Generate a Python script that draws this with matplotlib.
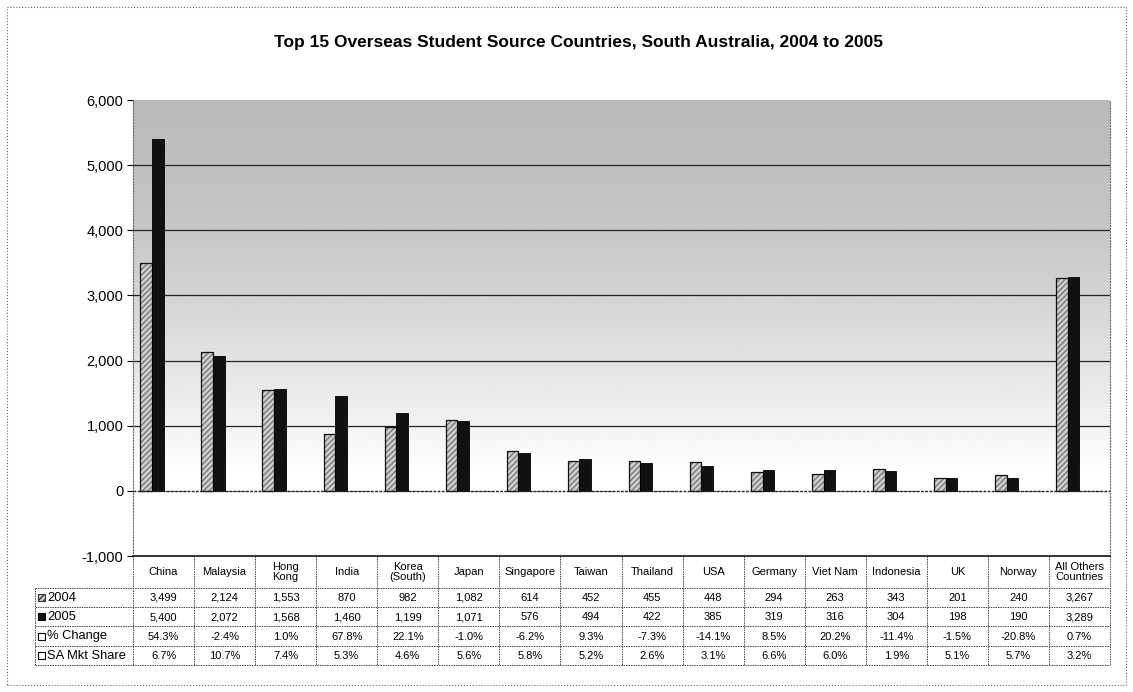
import matplotlib
matplotlib.use('Agg')
import matplotlib.pyplot as plt
from matplotlib.patches import Rectangle
import numpy as np

plt.rcParams['font.family'] = ['Liberation Sans', 'DejaVu Sans']

countries = ['China', 'Malaysia', 'Hong\nKong', 'India', 'Korea\n(South)', 'Japan',
             'Singapore', 'Taiwan', 'Thailand', 'USA', 'Germany', 'Viet Nam',
             'Indonesia', 'UK', 'Norway', 'All Others\nCountries']
y2004 = [3499, 2124, 1553, 870, 982, 1082, 614, 452, 455, 448, 294, 263, 343, 201, 240, 3267]
y2005 = [5400, 2072, 1568, 1460, 1199, 1071, 576, 494, 422, 385, 319, 316, 304, 198, 190, 3289]
pct_change = [54.3, -2.4, 1.0, 67.8, 22.1, -1.0, -6.2, 9.3, -7.3, -14.1, 8.5, 20.2, -11.4, -1.5, -20.8, 0.7]
mkt_share = [6.7, 10.7, 7.4, 5.3, 4.6, 5.6, 5.8, 5.2, 2.6, 3.1, 6.6, 6.0, 1.9, 5.1, 5.7, 3.2]
row_names = ['2004', '2005', '% Change', 'SA Mkt Share']
yticks = [-1000, 0, 1000, 2000, 3000, 4000, 5000, 6000]

W, H = 1133, 692
fig = plt.figure(figsize=(W / 100, H / 100), dpi=100)

def px_axes(x0, y0, x1, y1):
    return fig.add_axes([x0 / W, 1 - y1 / H, (x1 - x0) / W, (y1 - y0) / H])

ax = px_axes(133, 100, 1110, 556)
x = np.arange(len(countries))
n = len(countries)

# shaded background (grey at top fading to white near zero)
stops_v = [0, 300, 1000, 2000, 3000, 4000, 5000, 6000]
stops_c = [1.0, 1.0, 0.95, 0.89, 0.83, 0.78, 0.75, 0.73]
yy = np.linspace(0, 6000, 300)
grad = np.interp(yy, stops_v, stops_c)[:, None]
ax.imshow(grad, extent=(-0.5, n - 0.5, 0, 6000), origin='lower', aspect='auto',
          cmap='gray', vmin=0, vmax=1, zorder=0)

for g in [1000, 2000, 3000, 4000, 5000]:
    ax.axhline(g, color='#222222', lw=0.9, zorder=1)
ax.axhline(0, color='#222222', lw=1.0, ls=(0, (2, 1)), zorder=3)

w = 0.19
# 2004: hatched light grey
ax.bar(x - 1.5 * w, y2004, w, color='#d0d0d0', edgecolor='#777777', hatch='//////', lw=0, zorder=2)
ax.bar(x - 1.5 * w, y2004, w, facecolor='none', edgecolor='#111111', lw=0.9, zorder=2)
# 2005: black
ax.bar(x - 0.5 * w, y2005, w, color='#111111', edgecolor='#000000', lw=0.6, zorder=2)
# % change and market share are plotted as fractions and are invisible at this scale
ax.bar(x + 0.5 * w, np.array(pct_change) / 100, w, color='white', edgecolor='#000000', lw=0.4, zorder=2)
ax.bar(x + 1.5 * w, np.array(mkt_share) / 100, w, color='white', edgecolor='#000000', lw=0.4, zorder=2)

ax.set_xlim(-0.5, n - 0.5)
ax.set_ylim(-1000, 6000)
ax.set_yticks(yticks)
ax.set_yticklabels([f'{v:,}' for v in yticks], fontsize=10.5)
ax.tick_params(axis='y', length=4, width=0.8, pad=3)
ax.set_xticks([])
for s in ['left', 'right']:
    ax.spines[s].set_linestyle(':')
    ax.spines[s].set_color('#666666')
    ax.spines[s].set_linewidth(0.8)
ax.spines['top'].set_visible(False)
ax.spines['bottom'].set_color('#111111')
ax.spines['bottom'].set_linewidth(1.2)

# data table below the plot
tab = px_axes(133, 556, 1110, 666)
tab.set_xlim(-0.5, n - 0.5)
tab.set_ylim(666, 556)
tab.axis('off')
left = -0.5 - (133 - 35) / ((1110 - 133) / n)
row_y = [588, 607, 626, 646, 665]
line_kw = dict(color='#444444', lw=0.7, ls=(0, (1.5, 1)), clip_on=False)
for i in range(n + 1):
    tab.plot([i - 0.5, i - 0.5], [556, 665], **line_kw)
tab.plot([left, left], [588, 665], **line_kw)
for r in row_y:
    tab.plot([left, n - 0.5], [r, r], **line_kw)

for i, c in enumerate(countries):
    tab.text(i, 572, c, ha='center', va='center', fontsize=8, linespacing=1.1)
rows = [[f'{v:,}' for v in y2004], [f'{v:,}' for v in y2005],
        [f'{v:.1f}%' for v in pct_change], [f'{v:.1f}%' for v in mkt_share]]
for r, vals in enumerate(rows):
    yc = (row_y[r] + row_y[r + 1]) / 2
    for i, v in enumerate(vals):
        tab.text(i, yc + 0.5, v, ha='center', va='center', fontsize=8)
    tab.text(left + 0.2, yc + 0.5, row_names[r], ha='left', va='center', fontsize=9.3)

# legend keys in the row header cells
key_styles = [dict(facecolor='#d0d0d0', edgecolor='#333333', hatch='//////'),
              dict(facecolor='#111111', edgecolor='#000000'),
              dict(facecolor='white', edgecolor='#000000'),
              dict(facecolor='white', edgecolor='#000000')]
kw_ = 7 / ((1110 - 133) / n)
for r, st in enumerate(key_styles):
    yc = (row_y[r] + row_y[r + 1]) / 2
    tab.add_patch(Rectangle((left + 0.05, yc - 3.5), kw_, 7, lw=0.8, clip_on=False, **st))

fig.text(578 / W, 1 - 43 / H, 'Top 15 Overseas Student Source Countries, South Australia, 2004 to 2005',
         ha='center', va='center', fontsize=12.5, fontweight='bold')

# dotted frame around the whole chart
fig.patches.append(Rectangle((7 / W, 7 / H), 1 - 14 / W, 1 - 14 / H, transform=fig.transFigure,
                             fill=False, ls=':', lw=0.8, edgecolor='#666666'))

fig.savefig('out.png', dpi=100, facecolor='white')
